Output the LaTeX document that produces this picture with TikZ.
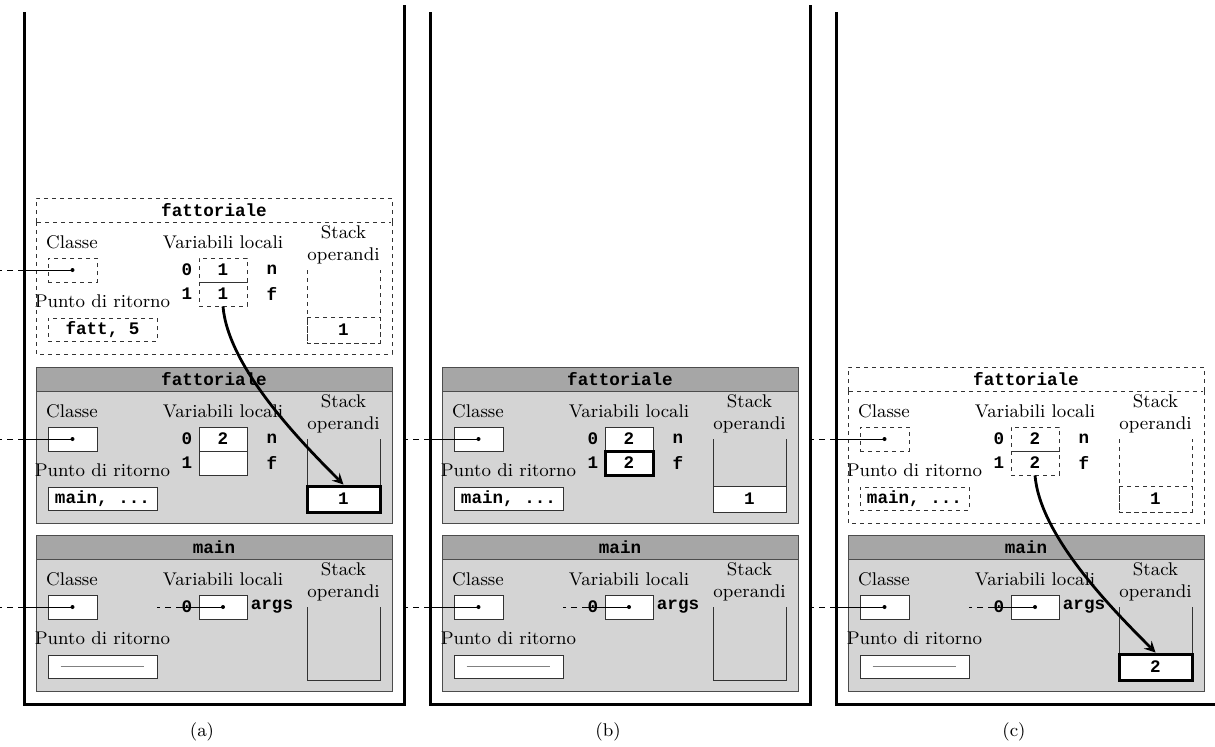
\documentclass[tikz,border=0pt]{standalone}
\usepackage{fontspec}
\setmonofont{Liberation Mono}
\newcommand{\lblfont}{\fontsize{9.2}{11}\selectfont}
\newcommand{\codefont}{\fontsize{8.8}{10}\selectfont\ttfamily\bfseries}
\begin{document}
\begin{tikzpicture}[x=0.5pt, y=-0.5pt,
    cont/.style={line width=1.5pt},
    lbl/.style={font=\lblfont, inner sep=0pt},
    code/.style={font=\codefont, inner sep=0pt},
    dsh/.style={dash pattern=on 2pt off 2pt},
    ptr/.style={dash pattern=on 3pt off 2.5pt},
    ftitle/.style={draw=black!70, fill=black!35},
    fbody/.style={draw=black!70, fill=black!17},
    dframe/.style={draw=black!80, dsh},
    cell/.style={draw=black!80, fill=white, minimum width=24pt, minimum height=12pt, inner sep=0pt, font=\codefont},
    bcell/.style={cell, draw=black, line width=1.5pt},
    dcell/.style={cell, dsh, fill=none},
    clbox/.style={minimum width=24.5pt},
    retbox/.style={minimum width=54.5pt, minimum height=11.5pt},
    opbox/.style={minimum width=36.5pt, minimum height=13pt},
    arr/.style={-stealth, line width=1.4pt}
  ]
  \useasboundingbox (0,0) rectangle (1215,746);

  % contenitori e record di main
  \foreach \p/\dx in {a/0, b/406, c/812} {
    \draw[cont] (24+\dx,12) -- (24+\dx,704) -- (404+\dx,704) -- (404+\dx,5);
    \node[lbl] (\p cap) at (202+\dx,732) {(\p)};
    \begin{scope}[shift={(36+\dx,535)}]
      \draw[ftitle] (0,0) rectangle (356,24);
      \draw[fbody] (0,24) rectangle (356,156);
      \node[code] (\p Mt) at (178,12) {main};
      \node[lbl] (\p Ml1) at (36,44) {Classe};
      \node[lbl] (\p Ml2) at (66.5,103) {Punto di ritorno};
      \node[lbl] (\p Ml3) at (187,44) {Variabili locali};
      \node[lbl, align=center] (\p Ml4) at (307.5,47) {Stack\\operandi};
      \node[cell, clbox] (\p Mc) at (36.5,72) {};
      \node[cell, retbox] (\p Mr) at (66.5,131.5) {};
      \node[cell] (\p Mv0) at (187,72) {};
      \node[code] (\p Mi0) at (151,72) {0};
      \node[code] (\p Mn0) at (236,72) {args};
      \draw[black!80] (271,72) |- (344,145) -- (344,72);
      \draw[gray] ([xshift=6.5pt]\p Mr.west) -- ([xshift=-6.5pt]\p Mr.east);
      \coordinate (\p Me) at (-12,72);
      \coordinate (\p Mo) at (-36,72);
      \coordinate (\p Mq) at (146,72);
      \coordinate (\p Mw) at (121,72);
      \draw (\p Mc.center) -- (\p Me);
      \draw[ptr] (\p Me) -- (\p Mo);
      \draw (\p Mv0.center) -- (\p Mq);
      \draw[ptr] (\p Mq) -- (\p Mw);
      \fill (\p Mc.center) circle (1pt) (\p Mv0.center) circle (1pt);
    \end{scope}
  }
  \node[bcell, opbox] (cMs) at (1155.5,667) {2};

  % record di fattoriale attivi
  \foreach \p/\dx/\vf/\fst/\sst in {a/0/{}/cell/bcell, b/406/2/bcell/cell} {
    \begin{scope}[shift={(36+\dx,367)}]
      \draw[ftitle] (0,0) rectangle (356,24);
      \draw[fbody] (0,24) rectangle (356,156);
      \node[code] (\p Ft) at (178,12) {fattoriale};
      \node[lbl] (\p Fl1) at (36,44) {Classe};
      \node[lbl] (\p Fl2) at (66.5,103) {Punto di ritorno};
      \node[lbl] (\p Fl3) at (187,44) {Variabili locali};
      \node[lbl, align=center] (\p Fl4) at (307.5,47) {Stack\\operandi};
      \node[cell, clbox] (\p Fc) at (36.5,72) {};
      \node[cell, retbox] (\p Fr) at (66.5,131.5) {main, ...};
      \node[cell] (\p Fv0) at (187,72) {2};
      \node[\fst] (\p Fv1) at (187,96) {\vf};
      \node[code] (\p Fi0) at (151,72) {0};
      \node[code] (\p Fi1) at (151,96) {1};
      \node[code] (\p Fn0) at (236,72) {n};
      \node[code] (\p Fn1) at (236,96) {f};
      \draw[black!80] (271,72) |- (344,145) -- (344,72);
      \node[\sst, opbox] (\p Fs) at (307.5,132) {1};
      \coordinate (\p Fe) at (-12,72);
      \coordinate (\p Fo) at (-36,72);
      \draw (\p Fc.center) -- (\p Fe);
      \draw[ptr] (\p Fe) -- (\p Fo);
      \fill (\p Fc.center) circle (1pt);
    \end{scope}
  }

  % record di fattoriale terminati (tratteggiati)
  \foreach \p/\dx/\dy/\va/\rt in {a/0/198/1/{fatt, 5}, c/812/367/2/{main, {.}..}} {
    \begin{scope}[shift={(36+\dx,\dy)}]
      \draw[dframe] (0,24) -- (0,0) -- (356,0) -- (356,24);
      \draw[dframe] (1,24) -- (355,24);
      \draw[dframe] (0,24) -- (0,156) -- (356,156) -- (356,24);
      \node[code] (\p Tt) at (178,12) {fattoriale};
      \node[lbl] (\p Tl1) at (36,44) {Classe};
      \node[lbl] (\p Tl2) at (66.5,103) {Punto di ritorno};
      \node[lbl] (\p Tl3) at (187,44) {Variabili locali};
      \node[lbl, align=center] (\p Tl4) at (307.5,47) {Stack\\operandi};
      \node[dcell, clbox] (\p Tc) at (36.5,72) {};
      \node[dcell, retbox] (\p Tr) at (66.5,131.5) {\rt};
      \node[dcell] (\p Tv0) at (187,72) {\va};
      \node[dcell] (\p Tv1) at (187,96) {\va};
      \node[code] (\p Ti0) at (151,72) {0};
      \node[code] (\p Ti1) at (151,96) {1};
      \node[code] (\p Tn0) at (236,72) {n};
      \node[code] (\p Tn1) at (236,96) {f};
      \draw[dframe] (271,72) |- (344,145) -- (344,72);
      \node[dcell, opbox] (\p Ts) at (307.5,132) {1};
      \coordinate (\p Te) at (-12,72);
      \coordinate (\p To) at (-36,72);
      \draw (\p Tc.center) -- (\p Te);
      \draw[ptr] (\p Te) -- (\p To);
      \fill (\p Tc.center) circle (1pt);
    \end{scope}
  }

  % valori restituiti
  \draw[arr] (aTv1.south) .. controls +(5,60) and +(-45,-45) .. (aFs.north);
  \draw[arr] (cTv1.south) .. controls +(5,60) and +(-45,-45) .. (cMs.north);
\end{tikzpicture}
\end{document}
